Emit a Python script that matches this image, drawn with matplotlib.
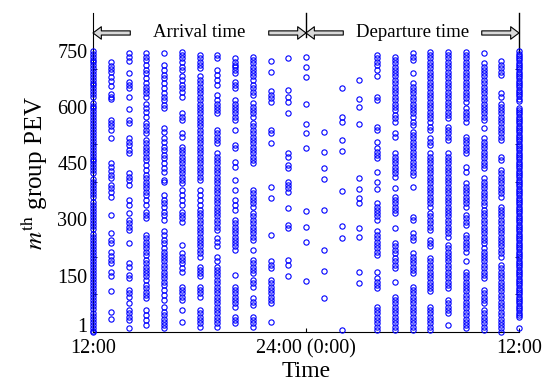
import matplotlib.pyplot as plt

# ---- data ----------------------------------------------------------------
# one column of PEV indices per hour, 12:00 .. 24:00 (arrivals) and
# 1:00 .. 12:00 next day (departures)
hours = list(range(12, 37))

c12 = [748, 741, 733, 726, 719, 711, 703, 695, 688, 680, 672, 664, 657, 649, 641, 633, 625,
       610, 603, 596, 588, 580, 572, 565, 557, 549, 541, 533, 525, 517, 509, 501, 494, 486,
       478, 470, 462, 455, 447, 439, 431, 423, 408, 400, 392, 384, 377, 369, 361, 346, 338,
       330, 322, 314, 306, 298, 290, 282, 275, 260, 252, 244, 236, 228, 220, 212, 204, 196,
       188, 180, 172, 164, 156, 148, 140, 132, 124, 116, 108, 100, 92, 84, 76, 68, 60, 52,
       44, 36, 28, 20, 12, 4, 1]
c13 = [720, 710, 702, 693, 680, 669, 656, 635, 627, 621, 565, 557, 548, 539, 516, 451, 441,
       428, 419, 410, 392, 384, 372, 361, 312, 263, 245, 236, 212, 203, 193, 183, 161, 148,
       108, 54, 36]
c14 = [743, 734, 721, 689, 667, 658, 649, 627, 594, 565, 556, 516, 507, 499, 485, 476, 423,
       414, 405, 392, 352, 339, 316, 299, 290, 281, 272, 236, 183, 174, 152, 143, 112, 103,
       94, 76, 59, 50, 41, 32, 10]
c15 = [743, 734, 725, 712, 698, 689, 676, 663, 654, 645, 636, 627, 609, 596, 587, 574, 556,
       548, 539, 530, 512, 503, 494, 485, 476, 467, 459, 445, 432, 419, 410, 401, 392, 383,
       374, 365, 352, 339, 321, 312, 303, 259, 250, 241, 232, 223, 214, 205, 192, 183, 174,
       165, 156, 148, 139, 125, 116, 107, 99, 90, 59, 45, 32, 19]
c16 = [743, 712, 698, 685, 676, 663, 649, 636, 627, 618, 605, 596, 543, 534, 516, 507, 494,
       485, 472, 463, 450, 436, 427, 405, 401, 365, 352, 343, 334, 321, 312, 299, 268, 259,
       245, 236, 223, 214, 205, 196, 188, 179, 170, 161, 152, 143, 134, 125, 112, 99, 85,
       67, 54, 45, 36, 27, 19, 10]
c17 = [747, 738, 729, 720, 707, 698, 681, 672, 658, 649, 640, 627, 583, 574, 565, 530, 521,
       494, 485, 476, 467, 459, 450, 441, 432, 423, 414, 405, 396, 379, 365, 352, 339, 321,
       312, 303, 294, 232, 210, 201, 192, 183, 170, 161, 121, 112, 103, 94, 85, 59, 28]
c18 = [738, 729, 720, 712, 704, 681, 672, 663, 654, 645, 636, 627, 618, 609, 600, 592, 583,
       574, 565, 556, 548, 539, 530, 521, 512, 503, 494, 485, 476, 467, 459, 450, 441, 432,
       423, 414, 405, 379, 365, 352, 339, 325, 316, 308, 299, 290, 281, 272, 263, 254, 245,
       236, 228, 219, 210, 201, 174, 165, 156, 148, 121, 112, 103, 94, 59, 50, 41, 32, 23, 14]
c19 = [738, 729, 698, 685, 672, 658, 632, 618, 609, 600, 592, 583, 539, 530, 521, 512, 503,
       476, 467, 459, 450, 441, 432, 423, 414, 405, 396, 387, 379, 370, 361, 352, 343, 334,
       325, 316, 308, 299, 290, 281, 272, 250, 241, 228, 201, 188, 174, 165, 156, 148, 139,
       130, 121, 112, 103, 94, 85, 76, 67, 59, 50, 41, 32, 23, 14]
c20 = [729, 720, 712, 707, 698, 689, 667, 658, 649, 618, 609, 600, 592, 583, 574, 565, 539,
       499, 490, 454, 441, 405, 379, 352, 339, 325, 299, 290, 281, 272, 263, 254, 245, 236,
       228, 219, 152, 121, 112, 103, 94, 85, 76, 67, 41, 32, 23]
c21 = [734, 725, 716, 707, 698, 689, 681, 672, 658, 649, 640, 632, 610, 600, 592, 583, 574,
       556, 548, 539, 530, 521, 512, 503, 494, 485, 476, 467, 459, 450, 379, 370, 361, 352,
       343, 334, 316, 308, 299, 290, 281, 272, 263, 254, 245, 219, 192, 183, 174, 165, 156,
       139, 130, 121, 90, 81, 72, 41, 32, 23, 14]
c22 = [721, 694, 641, 632, 623, 613, 539, 530, 503, 387, 356, 259, 188, 179, 170, 139, 130,
       121, 112, 103, 94, 85, 76, 28]
c23 = [729, 645, 627, 614, 583, 476, 467, 445, 436, 401, 392, 383, 374, 330, 285, 276, 192,
       179, 148]
c24 = [734, 707, 679, 607, 554, 531, 491, 323, 279, 239, 137]
d1 = [532, 479, 436, 408, 325, 219, 163, 90]
d2 = [651, 572, 561, 512, 483, 377, 283, 250, 5]
d3 = [672, 620, 600, 555, 410, 380, 356, 343, 276, 254, 161, 130]
d4 = [738, 729, 720, 712, 698, 681, 627, 618, 547, 539, 507, 490, 481, 472, 463, 427, 401,
      380, 343, 334, 325, 316, 308, 299, 268, 259, 250, 241, 232, 223, 214, 205, 161, 143,
      134, 125, 116, 67, 59, 50, 41, 32, 23, 14, 5]
d5 = [734, 725, 716, 707, 698, 689, 681, 672, 663, 654, 645, 636, 627, 618, 609, 600, 592,
      579, 570, 561, 530, 521, 476, 467, 459, 450, 441, 432, 423, 414, 383, 361, 352, 343,
      334, 325, 316, 276, 236, 228, 219, 210, 196, 188, 179, 170, 134, 94, 85, 76, 67, 59,
      50, 41, 32, 23, 14, 5]
d6 = [743, 734, 725, 689, 663, 654, 645, 636, 627, 618, 609, 600, 592, 583, 574, 561, 552,
      534, 525, 516, 507, 499, 490, 481, 472, 463, 454, 445, 436, 427, 418, 386, 307, 299,
      263, 254, 245, 210, 201, 192, 183, 174, 165, 156, 121, 112, 103, 94, 85, 76, 67, 59,
      50, 41, 32, 23, 14, 5]
d7 = [747, 738, 729, 720, 712, 703, 694, 685, 676, 667, 658, 649, 640, 632, 623, 614, 605,
      596, 587, 578, 570, 561, 547, 539, 516, 507, 499, 476, 467, 459, 450, 441, 432, 423,
      414, 405, 396, 387, 379, 370, 361, 352, 343, 334, 316, 308, 299, 290, 281, 272, 245,
      236, 228, 196, 188, 179, 170, 161, 152, 143, 134, 125, 116, 108, 67, 59, 50, 41, 32,
      23, 14, 5]
d8 = [747, 738, 729, 720, 712, 703, 694, 685, 676, 667, 658, 649, 640, 632, 623, 614, 605,
      596, 587, 578, 570, 547, 539, 530, 521, 512, 476, 467, 459, 450, 441, 432, 423, 414,
      405, 396, 387, 379, 370, 361, 352, 343, 334, 325, 316, 308, 299, 290, 281, 272, 263,
      254, 232, 223, 214, 205, 196, 188, 179, 170, 161, 152, 143, 134, 125, 116, 85, 76, 67,
      59, 50, 19]
d9 = [747, 738, 729, 720, 712, 703, 694, 685, 676, 667, 658, 649, 640, 632, 623, 614, 596,
      587, 579, 570, 561, 521, 512, 503, 494, 485, 476, 441, 427, 396, 387, 379, 370, 361,
      352, 343, 334, 312, 303, 294, 285, 259, 250, 241, 232, 223, 214, 188, 161, 152, 143,
      134, 125, 116, 108, 99, 90, 81, 72, 63, 54, 45, 36, 27, 19, 10]
d10 = [743, 716, 707, 698, 689, 681, 672, 663, 654, 645, 636, 627, 618, 609, 600, 592, 583,
       574, 565, 543, 516, 507, 499, 490, 481, 472, 463, 454, 445, 436, 410, 401, 392, 383,
       374, 365, 356, 347, 339, 325, 316, 308, 299, 290, 281, 272, 263, 254, 245, 236, 223,
       214, 205, 196, 188, 179, 170, 161, 152, 143, 112, 103, 94, 85, 76, 59, 50, 41, 32,
       23, 14, 5]
d11 = [721, 712, 703, 694, 685, 636, 627, 609, 600, 592, 583, 574, 565, 556, 547, 539, 530,
       521, 512, 467, 459, 432, 423, 414, 405, 396, 387, 379, 370, 361, 334, 325, 316, 308,
       299, 290, 281, 272, 263, 254, 245, 236, 228, 219, 210, 201, 179, 170, 161, 152, 143,
       134, 125, 116, 108, 99, 90, 81, 72, 63, 54, 45, 36, 27, 19, 10, 1]
d12 = [748, 742, 736, 730, 724, 718, 712, 706, 700, 694, 688, 682, 676, 670, 664, 658, 652,
       646, 640, 634, 628, 622, 615, 598, 592, 586, 580, 574, 568, 562, 556, 550, 544, 538,
       532, 526, 520, 514, 508, 502, 496, 490, 484, 478, 472, 466, 460, 454, 448, 442, 436,
       430, 424, 418, 412, 406, 400, 394, 388, 382, 376, 370, 364, 358, 352, 346, 340, 334,
       328, 322, 316, 310, 304, 298, 292, 286, 280, 274, 268, 262, 256, 250, 244, 238, 232,
       226, 220, 214, 208, 202, 196, 190, 184, 178, 172, 166, 160, 154, 148, 142, 136, 130,
       124, 118, 112, 106, 100, 94, 88, 82, 76, 70, 64, 58, 52, 46, 40, 12]

columns = [c12, c13, c14, c15, c16, c17, c18, c19, c20, c21, c22, c23, c24,
           d1, d2, d3, d4, d5, d6, d7, d8, d9, d10, d11, d12]

xtick_pos = [12, 24, 36]
xtick_labels = ['12:00', '24:00 (0:00)', '12:00']
ytick_pos = [18, 150, 300, 450, 600, 750]
ytick_labels = ['1', '150', '300', '450', '600', '750']

# ---- plot -------------------------------------------------------------------
plt.rcParams['font.family'] = 'Liberation Serif'
plt.rcParams['mathtext.fontset'] = 'stix'

fig = plt.figure(figsize=(5.49, 3.88), dpi=100)
ax = fig.add_axes([0.1694, 0.1443, 0.776, 0.822])

for h, col in zip(hours, columns):
    ax.plot([h] * len(col), col, 'o', mfc='none', mec='b', ms=3.8, mew=0.8,
            clip_on=False, zorder=3)

ax.set_xlim(12, 36)
ax.set_ylim(0, 850)

ax.spines['top'].set_visible(False)
ax.spines['right'].set_visible(False)

ax.set_xticks(xtick_pos)
ax.set_xticklabels(xtick_labels, fontsize=14.5)
ax.set_yticks(ytick_pos)
ax.set_yticklabels(ytick_labels, fontsize=14.5)
ax.tick_params(axis='y', length=0, pad=4)
ax.tick_params(axis='x', direction='in', length=3, pad=5)
ax.set_yticks(range(100, 800, 100), minor=True)
ax.tick_params(axis='y', which='minor', direction='in', length=3, right=True)

ax.set_xlabel('Time', fontsize=17, labelpad=2)
ax.set_ylabel(r'$m^{\mathrm{th}}$ group PEV', fontsize=18, labelpad=5)

# period markers and arrows above the data
ax.plot([24, 24], [785, 850], color='k', lw=1, clip_on=False)
ax.plot([36, 36], [745, 850], color='k', lw=1, clip_on=False)

arrow = dict(arrowstyle='simple,head_length=0.6,head_width=0.9,tail_width=0.3',
             fc='0.85', ec='k', lw=0.8, shrinkA=0, shrinkB=0)
for start, end in [(14.1, 12), (21.9, 24), (26.1, 24), (33.9, 36)]:
    ax.annotate('', xy=(end, 797), xytext=(start, 797), arrowprops=arrow)
ax.text(18, 797, 'Arrival time', fontsize=13.5, ha='center', va='center')
ax.text(30, 797, 'Departure time', fontsize=13.5, ha='center', va='center')

fig.savefig('out.png', dpi=100)
